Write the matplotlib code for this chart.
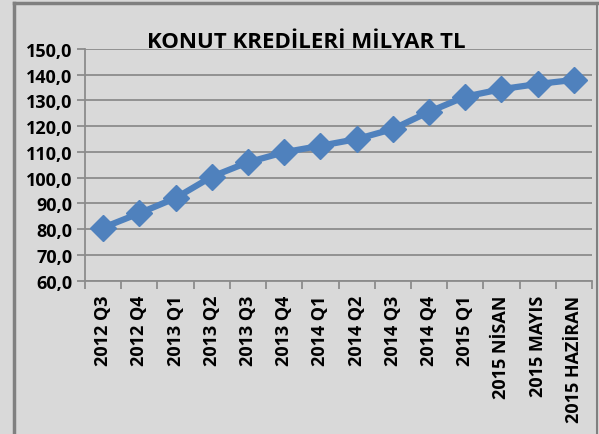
import matplotlib.pyplot as plt
from matplotlib.lines import Line2D
import numpy as np

categories = ['2012 Q3', '2012 Q4', '2013 Q1', '2013 Q2', '2013 Q3', '2013 Q4',
              '2014 Q1', '2014 Q2', '2014 Q3', '2014 Q4', '2015 Q1',
              '2015 NİSAN', '2015 MAYIS', '2015 HAZİRAN']
values = [80.6, 86.2, 92.1, 100.4, 106.0, 109.9, 112.4, 115.0, 118.9,
          125.6, 131.5, 134.4, 136.4, 138.0]

bg = '#D9D9D9'
plt.rcParams['font.family'] = ['Open Sans', 'DejaVu Sans']

fig = plt.figure(figsize=(5.99, 4.35), dpi=100, facecolor=bg)
ax = fig.add_axes([85 / 599, 1 - 281.7 / 435, 507 / 599, 231.7 / 435], facecolor=bg)

x = np.arange(len(categories))
ax.plot(x, values, color='#4F81BD', lw=4.5, marker='D', markersize=13.5,
        markeredgecolor='#4F81BD', zorder=3)

ax.set_ylim(60, 150)
ax.set_xlim(-0.5, len(categories) - 0.5)
ax.set_yticks(np.arange(60, 151, 10))
ax.set_yticklabels([f'{v:.1f}'.replace('.', ',') for v in np.arange(60, 151, 10)],
                   fontsize=13, fontweight='bold')
ax.grid(axis='y', color='#8C8C8C', lw=1.3)
ax.set_axisbelow(True)

# category boundaries as ticks, labels at centres
ax.set_xticks(np.arange(-0.5, len(categories)), minor=False)
ax.set_xticklabels([])
ax.set_xticks(x, minor=True)
ax.set_xticklabels(categories, minor=True, rotation=90, fontsize=13,
                   fontweight='bold')
ax.tick_params(axis='x', which='minor', length=0, pad=10)
ax.tick_params(axis='x', which='major', length=6, color='#8C8C8C', width=1.3)
ax.tick_params(axis='y', length=6, color='#8C8C8C', width=1.3, pad=3)

for s in ['top', 'right']:
    ax.spines[s].set_visible(False)
for s in ['left', 'bottom']:
    ax.spines[s].set_color('#8C8C8C')
    ax.spines[s].set_linewidth(1.3)

fig.text(306 / 599, 1 - 42 / 435, 'KONUT KREDİLERİ MİLYAR TL', ha='center',
         va='center', fontsize=16, fontweight='bold')

# chart area border
fig.add_artist(Line2D([13.5 / 599, 13.5 / 599], [0, 1 - 3.5 / 435],
                      transform=fig.transFigure, color='#808080', lw=2.5))
fig.add_artist(Line2D([13.5 / 599, 597 / 599], [1 - 3.5 / 435, 1 - 3.5 / 435],
                      transform=fig.transFigure, color='#808080', lw=2.5))
fig.add_artist(Line2D([597 / 599, 597 / 599], [0, 1 - 3.5 / 435],
                      transform=fig.transFigure, color='#808080', lw=1.5))

fig.savefig('out.png', dpi=100, facecolor=bg)
